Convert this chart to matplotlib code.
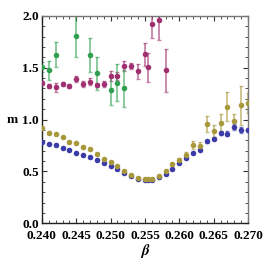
import matplotlib
matplotlib.use("Agg")
import matplotlib.pyplot as plt
from matplotlib.ticker import MultipleLocator

# ---- data ----
beta_main = [0.240, 0.241, 0.242, 0.243, 0.244, 0.245, 0.246, 0.247, 0.248, 0.249,
             0.250, 0.251, 0.252, 0.253, 0.254, 0.255, 0.2555, 0.256, 0.257, 0.258,
             0.259, 0.260, 0.261, 0.262, 0.263, 0.264, 0.265, 0.266, 0.267, 0.268,
             0.269, 0.270]

m_yellow = [0.92, 0.875, 0.86, 0.828, 0.78, 0.777, 0.738, 0.716, 0.668, 0.622,
            0.594, 0.555, 0.507, 0.468, 0.436, 0.424, 0.424, 0.424, 0.459, 0.50,
            0.571, 0.61, 0.663, 0.752, 0.748, 0.957, 0.892, 0.963, 1.123, 0.988,
            1.137, 1.159]
err_yellow = [0.01, 0.01, 0.01, 0.01, 0.01, 0.01, 0.01, 0.01, 0.01, 0.01,
              0.01, 0.01, 0.01, 0.01, 0.01, 0.01, 0.01, 0.01, 0.01, 0.015,
              0.015, 0.015, 0.02, 0.04, 0.04, 0.08, 0.06, 0.09, 0.14, 0.07,
              0.19, 0.10]

m_blue = [0.78, 0.761, 0.751, 0.722, 0.706, 0.68, 0.658, 0.636, 0.607, 0.581,
          0.552, 0.52, 0.485, 0.454, 0.428, 0.415, 0.415, 0.415, 0.445, 0.478,
          0.524, 0.58, 0.632, 0.674, 0.71, 0.79, 0.815, 0.867, 0.865, 0.93,
          0.90, 0.90]
err_blue = [0.01] * 25 + [0.015, 0.015, 0.02, 0.02, 0.03, 0.03, 0.02]

beta_magenta = [0.240, 0.241, 0.242, 0.243, 0.244, 0.245, 0.246, 0.247, 0.248, 0.249,
                0.250, 0.251, 0.252, 0.253, 0.254, 0.255, 0.2555, 0.256, 0.257, 0.258]
m_magenta = [1.35, 1.325, 1.31, 1.342, 1.326, 1.388, 1.342, 1.366, 1.336, 1.345,
             1.418, 1.418, 1.518, 1.518, 1.465, 1.628, 1.503, 1.92, 1.96, 1.474]
err_magenta = [0.02, 0.02, 0.04, 0.02, 0.02, 0.03, 0.03, 0.03, 0.02, 0.03,
               0.05, 0.04, 0.05, 0.03, 0.075, 0.11, 0.14, 0.13, 0.19, 0.21]

beta_green = [0.240, 0.241, 0.242, 0.245, 0.247, 0.248, 0.250, 0.251, 0.252]
m_green = [1.509, 1.474, 1.624, 1.807, 1.621, 1.445, 1.284, 1.355, 1.30]
err_green = [0.05, 0.09, 0.12, 0.2, 0.165, 0.16, 0.14, 0.18, 0.18]

# ---- styling ----
C_BLUE = "#3c3ca8"
C_YELLOW = "#a8983c"
C_MAGENTA = "#a03070"
C_GREEN = "#30a050"

plt.rcParams["font.family"] = ["Liberation Serif", "DejaVu Serif"]
plt.rcParams["font.weight"] = "bold"
plt.rcParams["mathtext.fontset"] = "stix"

fig = plt.figure(figsize=(2.72, 2.72), dpi=100)
ax = fig.add_axes([0.154, 0.179, 0.758, 0.763])

series = [
    (beta_main, m_blue, err_blue, C_BLUE),
    (beta_main, m_yellow, err_yellow, C_YELLOW),
    (beta_magenta, m_magenta, err_magenta, C_MAGENTA),
    (beta_green, m_green, err_green, C_GREEN),
]
for xs, ys, es, col in series:
    ax.errorbar(xs, ys, yerr=es, fmt="none", ecolor=col, alpha=0.6,
                elinewidth=1.3, capsize=1.5, capthick=1.0, zorder=2)
    ax.plot(xs, ys, "o", color=col, markersize=4.0, markeredgewidth=0,
            zorder=3)

ax.set_xlim(0.240, 0.270)
ax.set_ylim(0.0, 2.0)
ax.xaxis.set_major_locator(MultipleLocator(0.005))
ax.xaxis.set_minor_locator(MultipleLocator(0.001))
ax.yaxis.set_major_locator(MultipleLocator(0.5))
ax.yaxis.set_minor_locator(MultipleLocator(0.1))
ax.xaxis.set_major_formatter(plt.FuncFormatter(lambda v, p: f"{v:.3f}"))
ax.yaxis.set_major_formatter(plt.FuncFormatter(lambda v, p: f"{v:.1f}"))

ax.tick_params(which="both", direction="in", top=True, right=True,
               labelsize=9.5, color="#333333")
ax.tick_params(axis="x", pad=5)
ax.tick_params(axis="y", pad=2)
ax.tick_params(which="major", length=3.5, width=0.8)
ax.tick_params(which="minor", length=2, width=0.6)
for lab in ax.get_xticklabels() + ax.get_yticklabels():
    lab.set_fontweight("bold")

for side in ["left", "bottom"]:
    ax.spines[side].set_color("#222222")
    ax.spines[side].set_linewidth(1.0)
for side in ["top", "right"]:
    ax.spines[side].set_color("#777777")
    ax.spines[side].set_linewidth(1.0)

ax.set_ylabel("m", rotation=0, fontsize=9.5, fontweight="bold", va="center",
              ha="right", labelpad=3)
ax.set_xlabel(r"$\beta$", fontsize=11, labelpad=0)

fig.savefig("out.png", dpi=100)
